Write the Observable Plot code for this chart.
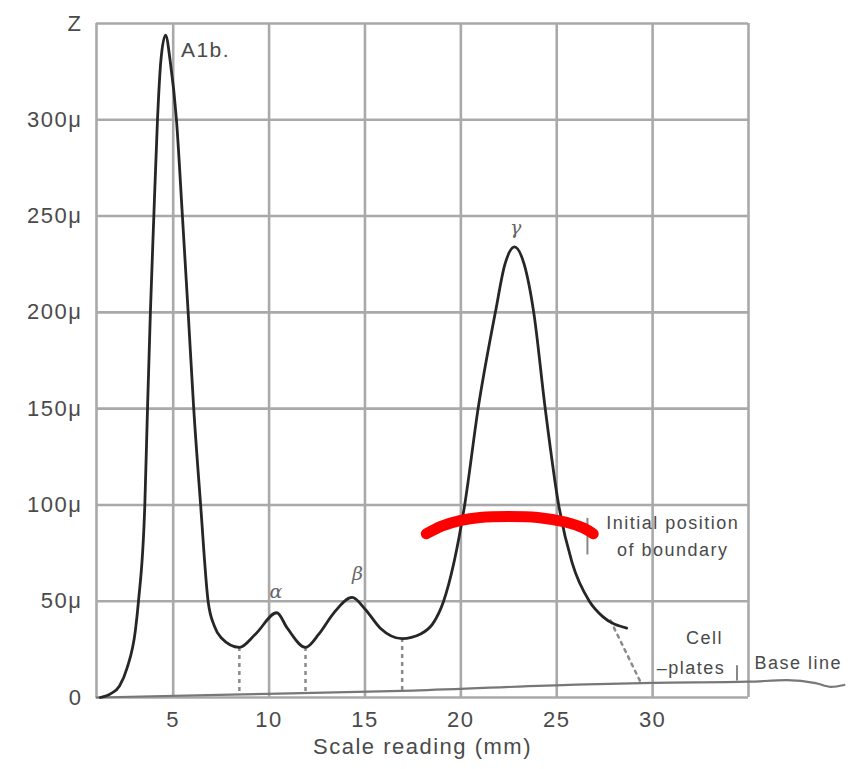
<!DOCTYPE html>
<html>
<head>
<meta charset="utf-8">
<script src="https://cdn.jsdelivr.net/npm/d3@7"></script>
<script src="https://cdn.jsdelivr.net/npm/@observablehq/plot@0.6"></script>
<style>
  html, body { margin: 0; padding: 0; background: #fff; }
</style>
</head>
<body>
<div id="chart"></div>
<script>
// Scale reading (mm) and Z (in μ) of the traced curve
const curveX = [1.2, 1.75, 2.2, 2.6, 3.03, 3.19, 3.52, 3.66, 3.81, 3.99, 4.18, 4.35, 4.6, 4.85, 5.17, 5.48, 5.78, 6.07, 6.43, 6.82, 7.15, 7.5, 8.45, 9.3, 10.4, 10.95, 11.9, 12.6, 13.35, 14.33, 15.0, 15.8, 16.94, 17.9, 18.55, 19.1, 20.2, 20.9, 21.8, 22.3, 22.8, 23.3, 23.8, 24.4, 25.1, 25.8, 26.7, 27.4, 28.65];
const curveY = [0, 2, 6, 15.5, 35, 50, 100, 150, 200, 250, 300, 330, 344, 330, 300, 250, 200, 150, 100, 50, 37, 31, 26, 33, 44, 36, 26, 33, 43.6, 52, 46, 36, 30.6, 33, 38.5, 50, 100, 150, 200, 225, 234, 225, 200, 150, 100, 70, 50, 42, 36];

// Base line (slightly rising, with the hand-drawn tail)
const baseX = [1, 8, 17.5, 26, 30, 35, 37, 38.5, 39.3, 40];
const baseY = [0, 1.5, 3.6, 6.7, 7.6, 8.2, 9, 7.5, 5.5, 6.5];

// Dotted drops from the minima to the base line
const dropX = [8.45, 11.9, 16.94];
const dropTop = [26, 26, 30.6];
const dropBottom = [1.7, 2.6, 3.6];

// Dotted extrapolation of the gamma tail to the base line
const tailX = [27.8, 29.4];
const tailY = [40, 7.4];

// Red mark: initial position of boundary
const arcX = [18.2, 19, 20, 21, 22.5, 24, 25.5, 26.4, 26.9];
const arcY = [85, 89, 92, 93.5, 94, 93.5, 91, 88, 85];

// Ticks
const xTicks = [5, 10, 15, 20, 25, 30];
const xGrid = [1, 5, 10, 15, 20, 25, 30, 35];
const yTicks = [0, 50, 100, 150, 200, 250, 300, 350];
const yLabels = ["0", "50\u03bc", "100\u03bc", "150\u03bc", "200\u03bc", "250\u03bc", "300\u03bc", "Z"];

// Annotations
const peakLabels = ["A1b.", "\u03b1", "\u03b2", "\u03b3"];
const peakLabelX = [5.4, 10.4, 14.65, 22.9];
const peakLabelY = [336, 55, 64, 244];

const noteLabels = ["Initial position", "of boundary", "Cell", "\u2013plates", "Base line"];
const noteX = [31.05, 31.05, 32.7, 32.0, 37.6];
const noteY = [90.3, 76.3, 31, 15, 17.6];

const pts = (xs, ys) => xs.map((x, i) => ({x, y: ys[i]}));

const gridColor = "#a9a9a9";
const textColor = "#4a4a4a";

const plot = Plot.plot({
  width: 852,
  height: 769,
  marginLeft: 96,
  marginRight: 104,
  marginTop: 23,
  marginBottom: 72,
  x: {domain: [1, 35]},
  y: {domain: [0, 350]},
  style: {
    fontFamily: "'Liberation Sans', Arial, Helvetica, sans-serif",
    fontSize: "22px",
    letterSpacing: "1.5px",
    color: textColor,
    background: "#fff",
    overflow: "visible"
  },
  marks: [
    Plot.ruleX(xGrid, {stroke: gridColor, strokeWidth: 2.6}),
    Plot.ruleY(yTicks, {stroke: gridColor, strokeWidth: 2.6}),
    Plot.axisY({ticks: yTicks, tickFormat: (d) => yLabels[yTicks.indexOf(d)], tickSize: 0, tickPadding: 14, label: null, fontSize: 22}),
    Plot.axisX({ticks: xTicks, tickSize: 0, tickPadding: 14, fontSize: 22,
      label: "Scale reading (mm)", labelAnchor: "center", labelArrow: "none", labelOffset: 56}),
    Plot.line(pts(baseX, baseY), {x: "x", y: "y", stroke: "#777", strokeWidth: 2.2, curve: "monotone-x"}),
    Plot.ruleX(dropX.map((x, i) => ({x, y1: dropTop[i], y2: dropBottom[i]})),
      {x: "x", y1: "y1", y2: "y2", stroke: "#8a8a8a", strokeWidth: 2.5, strokeDasharray: "4,4"}),
    Plot.line(pts(tailX, tailY), {x: "x", y: "y", stroke: "#8a8a8a", strokeWidth: 2.5, strokeDasharray: "3,5"}),
    Plot.line(pts(curveX, curveY), {x: "x", y: "y", stroke: "#262626", strokeWidth: 2.8, curve: "monotone-x"}),
    Plot.ruleX([26.6], {y1: 74, y2: 93, stroke: "#888", strokeWidth: 2}),
    Plot.ruleX([34.4], {y1: 8.5, y2: 16.5, stroke: "#888", strokeWidth: 2}),
    Plot.line(pts(arcX, arcY), {x: "x", y: "y", stroke: "#ff0000", strokeWidth: 11, strokeLinecap: "round", curve: "catmull-rom"}),
    Plot.text(peakLabels.map((t, i) => ({t, x: peakLabelX[i], y: peakLabelY[i]})).slice(0, 1),
      {x: "x", y: "y", text: "t", textAnchor: "start", fontSize: 21, fill: textColor}),
    Plot.text(peakLabels.map((t, i) => ({t, x: peakLabelX[i], y: peakLabelY[i]})).slice(1),
      {x: "x", y: "y", text: "t", fontSize: 19, fontStyle: "italic", fill: "#666", fontFamily: "'DejaVu Serif', serif"}),
    Plot.text(noteLabels.map((t, i) => ({t, x: noteX[i], y: noteY[i]})),
      {x: "x", y: "y", text: "t", fontSize: 18, fill: textColor})
  ]
});
document.getElementById("chart").appendChild(plot);
</script>
</body>
</html>
